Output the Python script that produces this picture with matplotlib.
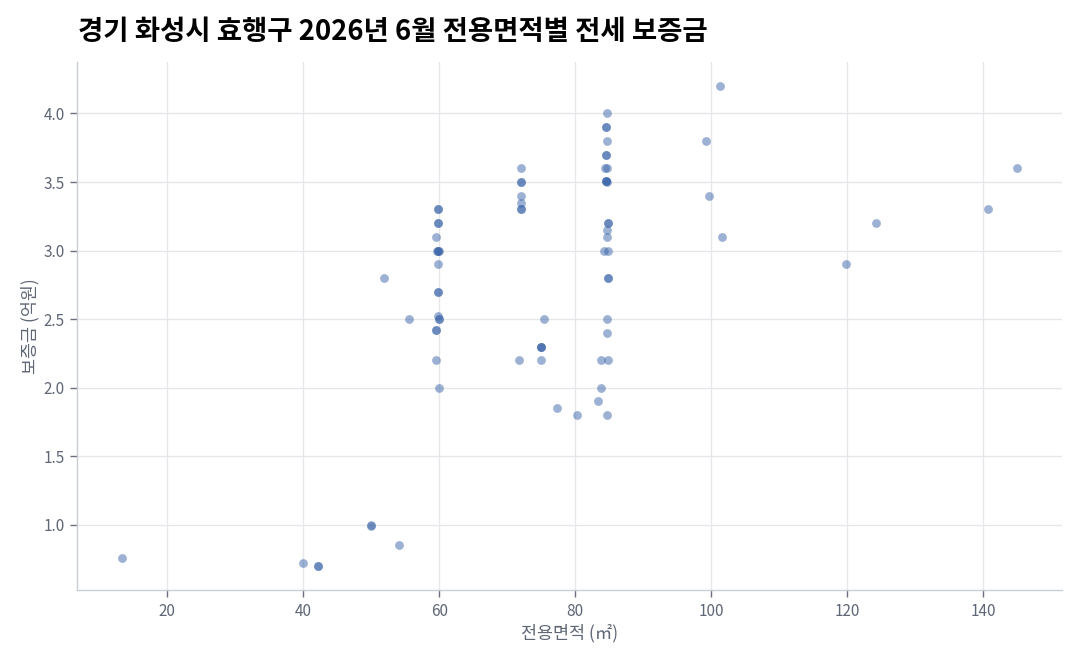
import matplotlib
matplotlib.use("Agg")
import matplotlib.pyplot as plt

# Configuration
plt.rcParams["font.family"] = ["Noto Sans CJK KR", "DejaVu Sans"]

TITLE = "경기 화성시 효행구 2026년 6월 전용면적별 전세 보증금"
X_LABEL = "전용면적 (㎡)"
Y_LABEL = "보증금 (억원)"

# Data (area m², deposit 억원)
area_low = [13.3, 39.9, 42.1, 42.1, 49.9, 49.9, 54.1, 51.9, 55.6]
deposit_low = [0.76, 0.72, 0.70, 0.70, 1.00, 0.99, 0.85, 2.80, 2.50]

area_60 = [59.9, 59.9, 59.9, 59.9, 59.6, 59.7, 59.9, 60.0, 59.8, 59.8,
           59.9, 59.9, 59.8, 59.95, 59.95, 59.6, 59.6, 59.6, 59.95]
deposit_60 = [3.30, 3.30, 3.20, 3.20, 3.10, 3.00, 3.00, 3.00, 3.00, 2.90,
              2.70, 2.70, 2.52, 2.50, 2.50, 2.42, 2.42, 2.20, 2.00]

area_72 = [72.1, 72.1, 72.1, 72.1, 72.0, 72.1, 72.1, 75.4, 75.0, 75.0,
           75.0, 71.7, 75.0, 77.4, 80.3]
deposit_72 = [3.60, 3.50, 3.50, 3.40, 3.35, 3.30, 3.30, 2.50, 2.30, 2.30,
              2.30, 2.20, 2.20, 1.85, 1.80]

area_85 = [84.7, 84.6, 84.6, 84.7, 84.6, 84.6, 84.4, 84.7, 84.6, 84.6,
           84.6, 84.7, 84.85, 84.85, 84.7, 84.7, 84.3, 84.9, 84.9, 84.9,
           84.7, 84.7, 83.8, 84.9, 83.8, 83.3, 84.7]
deposit_85 = [4.00, 3.90, 3.90, 3.80, 3.70, 3.70, 3.60, 3.60, 3.51, 3.51,
              3.51, 3.50, 3.20, 3.20, 3.15, 3.10, 3.00, 3.00, 2.80, 2.80,
              2.50, 2.40, 2.20, 2.20, 2.00, 1.90, 1.80]

area_large = [101.3, 99.3, 99.7, 101.6, 119.9, 124.3, 140.7, 145.0]
deposit_large = [4.20, 3.80, 3.40, 3.10, 2.90, 3.20, 3.30, 3.60]

X_TICKS = [20, 40, 60, 80, 100, 120, 140]
Y_TICKS = [1.0, 1.5, 2.0, 2.5, 3.0, 3.5, 4.0]

POINT_COLOR = "#3a64a8"
GRID_COLOR = "#e6e7ea"
SPINE_COLOR = "#c9cdd6"
TEXT_COLOR = "#5f6675"


def main():
    areas = area_low + area_60 + area_72 + area_85 + area_large
    deposits = deposit_low + deposit_60 + deposit_72 + deposit_85 + deposit_large

    fig = plt.figure(figsize=(10.8, 6.6), dpi=100)
    ax = fig.add_axes([0.0713, 0.106, 0.9117, 0.8])

    ax.scatter(areas, deposits, s=40, color=POINT_COLOR, alpha=0.5,
               linewidths=0, zorder=3)

    ax.set_xticks(X_TICKS)
    ax.set_yticks(Y_TICKS)
    ax.set_yticklabels([f"{v:.1f}" for v in Y_TICKS])

    ax.grid(True, color=GRID_COLOR, linewidth=1.0, zorder=0)
    ax.set_axisbelow(True)

    for side in ["top", "right"]:
        ax.spines[side].set_visible(False)
    for side in ["left", "bottom"]:
        ax.spines[side].set_color(SPINE_COLOR)
        ax.spines[side].set_linewidth(1.0)

    ax.tick_params(axis="both", colors=TEXT_COLOR, labelsize=11,
                   length=5, width=1.0, color="#6b7080", pad=4)
    for lbl in ax.get_xticklabels() + ax.get_yticklabels():
        lbl.set_fontweight("light")

    ax.set_xlabel(X_LABEL, color=TEXT_COLOR, fontsize=12.5, labelpad=3)
    ax.set_ylabel(Y_LABEL, color=TEXT_COLOR, fontsize=12.5, labelpad=3)

    fig.text(0.072, 0.952, TITLE, fontsize=19.8, fontweight="bold",
             color="black", ha="left", va="center")

    fig.savefig("out.png", dpi=100)
    plt.close(fig)


if __name__ == "__main__":
    main()
